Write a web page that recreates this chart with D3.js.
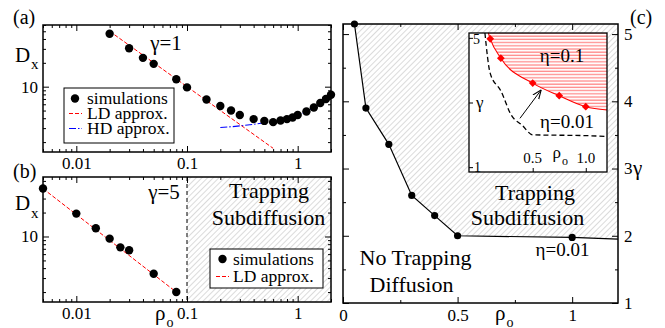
<!DOCTYPE html>
<html><head><meta charset="utf-8">
<script src="https://cdn.jsdelivr.net/npm/d3@7"></script>
<style>
body{margin:0;background:#fff}
svg text{font-family:"Liberation Serif","DejaVu Serif","Noto Serif",serif;fill:#000}
</style></head><body>
<svg id="chart" width="665" height="328"></svg>
<script>
// panel (a): gamma = 1
var rhoA = [0.02,0.03,0.04,0.05,0.08,0.1,0.15,0.2,0.25,0.3,0.4,0.5,0.6,0.7,0.8,0.9,1.0,1.2,1.4,1.6,1.8,2.0];
var dxA  = [46.5,30.5,23.1,19.4,12.4,9.8,6.9,5.7,5.0,4.4,3.9,3.7,3.57,3.74,3.9,4.08,4.39,4.87,5.47,6.22,7.0,7.9];
var ldRhoA = [0.02,0.6], ldDxA = [50,1.67];
var hdRhoA = [0.2,0.3,0.5,0.7,1.0,1.5,2.0], hdDxA = [3.05,3.2,3.5,3.72,4.35,5.8,7.9];

// panel (b): gamma = 5
var rhoB = [0.005,0.01,0.015,0.02,0.025,0.03,0.05,0.08];
var dxB  = [40.2,19.4,12.7,9.4,7.3,6.7,3.4,2.0];
var ldRhoB = [0.005,0.08], ldDxB = [40,2.0];
var trapRhoB = [0.1,2];

// panel (c): phase boundary, eta = 0.01
var rhoC = [0.05,0.1,0.2,0.3,0.4,0.5,1.0];
var gammaC = [5.15,3.9,3.36,2.6,2.3,2.0,1.975];
var edgeC = [1.2,1.95];

// inset: eta = 0.1
var rhoI = [0.1,0.2,0.5,0.75,1.0];
var gammaI = [4.97,4.37,3.6,3.21,2.87];
var redTopI = [0.082,5.15], redEdgeI = [1.2,2.77];
var arrowI = [[0.38,2.51],[0.58,3.39]];

var xTicksC = [0,0.25,0.5,0.75,1.0];
var yTicksC = [1,1.5,2,2.5,3,3.5,4,4.5,5];
var xTicksI = [0.5,1.0], yTicksI = [1,3,5];

var svg = d3.select("#chart");
var FONT = '"Liberation Serif","DejaVu Serif","Noto Serif",serif';

var defs = svg.append("defs");
var hatch = defs.append("pattern").attr("id","hatch").attr("patternUnits","userSpaceOnUse")
  .attr("width",4).attr("height",4).attr("patternTransform","rotate(45)");
hatch.append("line").attr("x1",0).attr("y1",0).attr("x2",0).attr("y2",4)
  .attr("stroke","#bcbcbc").attr("stroke-width",1.1);
var stripes = defs.append("pattern").attr("id","stripes").attr("patternUnits","userSpaceOnUse")
  .attr("width",6).attr("height",3.2);
stripes.append("rect").attr("width",6).attr("height",3.2).attr("fill","#fff");
stripes.append("line").attr("x1",0).attr("x2",6).attr("y1",1).attr("y2",1)
  .attr("stroke","#ff8a8a").attr("stroke-width",1.3);
defs.append("marker").attr("id","arrow").attr("viewBox","0 0 10 10").attr("refX",10).attr("refY",5)
  .attr("markerWidth",9).attr("markerHeight",9).attr("orient","auto").attr("markerUnits","userSpaceOnUse")
  .append("path").attr("d","M0,1L10,5L0,9").attr("fill","none").attr("stroke","#000").attr("stroke-width",1.2);

function styleAxis(a, size){
  a.attr("font-family",FONT).attr("font-size",size || 17);
  a.selectAll("line").attr("stroke","#000").attr("stroke-width",1);
  a.selectAll("text").attr("fill","#000");
}

function logAxis(g, scale, side, at, labels){
  var major = function(v){ return Math.abs(Math.log10(v) - Math.round(Math.log10(v))) < 1e-9; };
  var fn = {bottom:d3.axisBottom, top:d3.axisTop, left:d3.axisLeft, right:d3.axisRight}[side];
  var horiz = side === "bottom" || side === "top";
  var ax = fn(scale).tickValues(scale.ticks()).tickSize(-3).tickPadding(5)
    .tickFormat(function(v){ return labels && major(v) ? d3.format("~g")(v) : ""; });
  var a = g.append("g").attr("transform", horiz ? "translate(0,"+at+")" : "translate("+at+",0)").call(ax);
  a.select(".domain").remove();
  a.selectAll(".tick").filter(major).select("line")
    .attr(horiz ? "y2" : "x2", function(){ return 2 * d3.select(this).attr(horiz ? "y2" : "x2"); });
  styleAxis(a);
  return a;
}

function linAxis(g, scale, side, at, values, isMajor, labels, len, size){
  var fn = {bottom:d3.axisBottom, top:d3.axisTop, left:d3.axisLeft, right:d3.axisRight}[side];
  var horiz = side === "bottom" || side === "top";
  var ax = fn(scale).tickValues(values).tickSize(-len/2).tickPadding(6)
    .tickFormat(function(v){ return labels && isMajor(v) ? d3.format("~g")(v) : ""; });
  var a = g.append("g").attr("transform", horiz ? "translate(0,"+at+")" : "translate("+at+",0)").call(ax);
  a.select(".domain").remove();
  a.selectAll(".tick").filter(isMajor).select("line")
    .attr(horiz ? "y2" : "x2", function(){ return 2 * d3.select(this).attr(horiz ? "y2" : "x2"); });
  styleAxis(a, size);
  return a;
}

function txt(x, y, s, size, anchor){
  return svg.append("text").attr("x",x).attr("y",y).attr("font-size",size)
    .attr("font-family",FONT).attr("text-anchor",anchor || "start").text(s);
}

// ---------------- panel (a)
var xA = d3.scaleLog().domain([0.005,2]).range([43,331]);
var yA = d3.scaleLog().domain([1.5,60]).range([152,25]);
var gA = svg.append("g");
defs.append("clipPath").attr("id","clipA").append("rect").attr("x",43).attr("y",25).attr("width",288).attr("height",127);

gA.append("path").datum(d3.zip(ldRhoA, ldDxA)).attr("clip-path","url(#clipA)")
  .attr("d", d3.line().x(function(d){return xA(d[0]);}).y(function(d){return yA(d[1]);}))
  .attr("fill","none").attr("stroke","#f00").attr("stroke-width",1).attr("stroke-dasharray","4,2");
gA.append("path").datum(d3.zip(hdRhoA, hdDxA))
  .attr("d", d3.line().curve(d3.curveMonotoneX).x(function(d){return xA(d[0]);}).y(function(d){return yA(d[1]);}))
  .attr("fill","none").attr("stroke","#00f").attr("stroke-width",1.1).attr("stroke-dasharray","7,2,1.5,2");
gA.selectAll("circle").data(d3.zip(rhoA, dxA)).join("circle")
  .attr("cx", function(d){return xA(d[0]);}).attr("cy", function(d){return yA(d[1]);}).attr("r",4.2).attr("fill","#000");

// legend (a)
gA.append("rect").attr("x",64).attr("y",88).attr("width",110).attr("height",55)
  .attr("fill","#fff").attr("stroke","#000").attr("stroke-width",1);
gA.append("circle").attr("cx",75).attr("cy",98.5).attr("r",4.2).attr("fill","#000");
gA.append("line").attr("x1",69).attr("x2",82).attr("y1",113.5).attr("y2",113.5)
  .attr("stroke","#f00").attr("stroke-dasharray","4,2");
gA.append("line").attr("x1",69).attr("x2",82).attr("y1",128.5).attr("y2",128.5)
  .attr("stroke","#00f").attr("stroke-dasharray","7,2,1.5,2");
txt(87,104,"simulations",17.5); txt(87,119,"LD approx.",17.5); txt(87,134,"HD approx.",17.5);

gA.append("rect").attr("x",43).attr("y",25).attr("width",288).attr("height",127)
  .attr("fill","none").attr("stroke","#000").attr("stroke-width",1.5);
logAxis(gA, xA, "bottom", 152, true);
logAxis(gA, xA, "top", 25, false);
logAxis(gA, yA, "left", 43, true);
logAxis(gA, yA, "right", 331, false);

txt(13,24,"(a)",20);
txt(15,62,"D",21); txt(31,69,"x",15);
txt(166,50,"γ=1",21,"middle");

// ---------------- panel (b)
var xB = d3.scaleLog().domain([0.005,2]).range([43,331]);
var yB = d3.scaleLog().domain([1.5,56]).range([302,177]);
var gB = svg.append("g");
gB.append("rect").attr("x",xB(trapRhoB[0])).attr("y",177).attr("width",xB(trapRhoB[1]) - xB(trapRhoB[0])).attr("height",125)
  .attr("fill","url(#hatch)");
gB.append("line").attr("x1",xB(trapRhoB[0])).attr("x2",xB(trapRhoB[0])).attr("y1",177).attr("y2",302)
  .attr("stroke","#000").attr("stroke-width",1).attr("stroke-dasharray","4,3");
gB.append("path").datum(d3.zip(ldRhoB, ldDxB))
  .attr("d", d3.line().x(function(d){return xB(d[0]);}).y(function(d){return yB(d[1]);}))
  .attr("fill","none").attr("stroke","#f00").attr("stroke-width",1).attr("stroke-dasharray","4,2");
gB.selectAll("circle").data(d3.zip(rhoB, dxB)).join("circle")
  .attr("cx", function(d){return xB(d[0]);}).attr("cy", function(d){return yB(d[1]);}).attr("r",4.2).attr("fill","#000");

gB.append("rect").attr("x",210).attr("y",249).attr("width",113).attr("height",39)
  .attr("fill","#fff").attr("stroke","#000").attr("stroke-width",1);
gB.append("circle").attr("cx",222.5).attr("cy",259).attr("r",4.2).attr("fill","#000");
gB.append("line").attr("x1",216).attr("x2",229).attr("y1",276.5).attr("y2",276.5)
  .attr("stroke","#f00").attr("stroke-dasharray","4,2");
txt(233,264.5,"simulations",17.5); txt(233,282,"LD approx.",17.5);

gB.append("rect").attr("x",43).attr("y",177).attr("width",288).attr("height",125)
  .attr("fill","none").attr("stroke","#000").attr("stroke-width",1.5);
logAxis(gB, xB, "bottom", 302, true);
logAxis(gB, xB, "top", 177, false);
logAxis(gB, yB, "left", 43, true);
logAxis(gB, yB, "right", 331, false);

txt(13,178,"(b)",20);
txt(15,210,"D",21); txt(31,218,"x",15);
txt(164,199,"γ=5",21,"middle");
txt(269,198,"Trapping",22,"middle");
txt(268.5,225,"Subdiffusion",22,"middle");
txt(155,320,"ρ",21); txt(166.5,327,"o",14);

// ---------------- panel (c)
var xC = d3.scaleLinear().domain([0,1.2]).range([343,618]);
var yC = d3.scaleLinear().domain([1,5.15]).range([303,24]);
var gC = svg.append("g");
var bound = d3.zip(rhoC, gammaC).concat([edgeC]);
var region = bound.concat([[edgeC[0], yC.domain()[1]]]);
gC.append("path").datum(region)
  .attr("d", d3.line().x(function(d){return xC(d[0]);}).y(function(d){return yC(d[1]);}))
  .attr("fill","url(#hatch)").attr("stroke","none");
gC.append("path").datum(bound)
  .attr("d", d3.line().x(function(d){return xC(d[0]);}).y(function(d){return yC(d[1]);}))
  .attr("fill","none").attr("stroke","#000").attr("stroke-width",1.2);
gC.selectAll("circle").data(d3.zip(rhoC, gammaC)).join("circle")
  .attr("cx", function(d){return xC(d[0]);}).attr("cy", function(d){return yC(d[1]);}).attr("r",3.6).attr("fill","#000");

gC.append("rect").attr("x",343).attr("y",24).attr("width",275).attr("height",279)
  .attr("fill","none").attr("stroke","#000").attr("stroke-width",1.5);
var halfX = function(v){ return Math.abs(v*2 - Math.round(v*2)) < 1e-9; };
var intY = function(v){ return Math.abs(v - Math.round(v)) < 1e-9; };
linAxis(gC, xC, "bottom", 303, xTicksC, halfX, true, 6, 17);
linAxis(gC, xC, "top", 24, xTicksC, halfX, false, 6, 17);
linAxis(gC, yC, "left", 343, yTicksC, intY, false, 6, 17);
linAxis(gC, yC, "right", 618, yTicksC, intY, true, 6, 17);

txt(630,24,"(c)",20);
txt(633,175,"γ",21);
txt(495,320,"ρ",21); txt(506.5,327,"o",14);
txt(535,199.5,"Trapping",22,"middle");
txt(527.5,225,"Subdiffusion",22,"middle");
txt(415.5,264.5,"No Trapping",22,"middle");
txt(411.5,291.5,"Diffusion",22,"middle");
txt(562.5,256,"η=0.01",19,"middle");

// ---------------- inset
var xI = d3.scaleLinear().domain([-0.1,1.2]).range([469,607]);
var yI = d3.scaleLinear().domain([0.85,5.15]).range([172,33]);
var gI = svg.append("g");
gI.append("rect").attr("x",469).attr("y",33).attr("width",138).attr("height",139).attr("fill","#fff");
var redCurve = [redTopI].concat(d3.zip(rhoI, gammaI)).concat([redEdgeI]);
var redRegion = redCurve.concat([[redEdgeI[0], yI.domain()[1]]]);
gI.append("path").datum(redRegion)
  .attr("d", d3.line().curve(d3.curveMonotoneX).x(function(d){return xI(d[0]);}).y(function(d){return yI(d[1]);}))
  .attr("fill","url(#stripes)").attr("stroke","none");
gI.append("path").datum(redCurve)
  .attr("d", d3.line().curve(d3.curveMonotoneX).x(function(d){return xI(d[0]);}).y(function(d){return yI(d[1]);}))
  .attr("fill","none").attr("stroke","#f00").attr("stroke-width",1.1);
gI.selectAll("path.pt").data(d3.zip(rhoI, gammaI)).join("path").attr("class","pt")
  .attr("d", d3.symbol(d3.symbolSquare, 30))
  .attr("transform", function(d){ return "translate("+xI(d[0])+","+yI(d[1])+") rotate(45)"; })
  .attr("fill","#f00");
gI.append("path").datum(bound)
  .attr("d", d3.line().curve(d3.curveMonotoneX).x(function(d){return xI(d[0]);}).y(function(d){return yI(d[1]);}))
  .attr("fill","none").attr("stroke","#000").attr("stroke-width",1.3).attr("stroke-dasharray","5,3");
gI.append("line").attr("x1",xI(arrowI[0][0])).attr("y1",yI(arrowI[0][1]))
  .attr("x2",xI(arrowI[1][0])).attr("y2",yI(arrowI[1][1]))
  .attr("stroke","#000").attr("stroke-width",1).attr("marker-end","url(#arrow)");
gI.append("rect").attr("x",469).attr("y",33).attr("width",138).attr("height",139)
  .attr("fill","none").attr("stroke","#000").attr("stroke-width",1.3);
linAxis(gI, xI, "bottom", 172, xTicksI, function(){return true;}, false, 4, 15);
linAxis(gI, yI, "left", 469, yTicksI, function(){return true;}, false, 4, 15);

txt(473,44,"5",14); txt(474,172,"1",14);
txt(476,108,"γ",17);
txt(xI(xTicksI[0]),163,"0.5",15,"middle");
txt(xI(xTicksI[1]),163,"1.0",15,"middle");
txt(552.5,158,"ρ",17); txt(562,165,"o",12);
txt(562,62,"η=0.1",19,"middle");
txt(540,128,"η=0.01",19);
</script>
</body></html>
